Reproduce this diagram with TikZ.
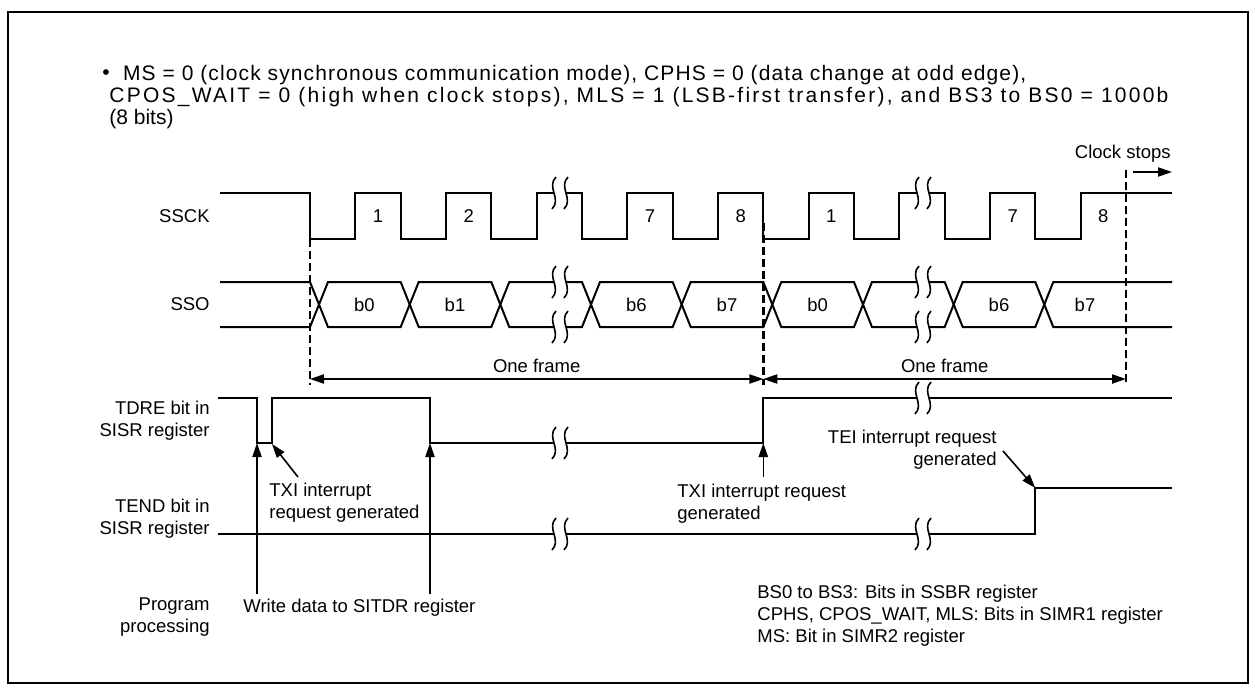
\documentclass[tikz,border=0pt]{standalone}
\usepackage{fontspec}
\setmainfont{Liberation Sans}
\usetikzlibrary{arrows.meta, positioning, calc}

\begin{document}
\begin{tikzpicture}[x=0.5pt, y=-0.5pt,
    sig/.style={line width=1pt, line join=miter},
    guide/.style={line width=1.4pt, dash pattern=on 4pt off 2pt},
    arrow/.style={-{Triangle[length=7pt,width=4.6pt]}, line width=0.8pt},
    span/.style={{Triangle[length=7pt,width=4.6pt]}-{Triangle[length=7pt,width=4.6pt]}, line width=0.8pt},
    lbl/.style={font=\fontsize{9.25}{11}\selectfont, inner sep=0pt},
    signame/.style={lbl, align=right, anchor=east},
    note/.style={lbl, align=left, anchor=west},
    wavebreak/.pic={
        \fill[white] (-2,-16) .. controls (-12,-6) and (4,6) .. (-6,16) -- (6,16) .. controls (16,6) and (0,-6) .. (10,-16) -- cycle;
        \draw[line width=0.8pt] (-2,-16) .. controls (-12,-6) and (4,6) .. (-6,16);
        \draw[line width=0.8pt] (10,-16) .. controls (0,-6) and (16,6) .. (6,16);
    }
]
    \useasboundingbox (0,0) rectangle (1255,691);
    \draw[line width=1.4pt] (8,12) rectangle (1248,683);

    % Conditions
    \node[lbl, font=\fontsize{10.5}{10.85}\selectfont] (bullet) at (106,75) {\textbullet};
    \node[lbl, align=left, anchor=north west, font=\fontsize{10.5}{10.85}\selectfont] (cond) at (109,65)
        {\hspace*{6.8pt}{\addfontfeatures{LetterSpace=5.3}MS = 0 (clock synchronous communication mode), CPHS = 0 (data change at odd edge),}\\
         {\addfontfeatures{LetterSpace=10.7}CPOS\_WAIT = 0 (high when clock stops), MLS = 1 (LSB-first transfer), and BS3 to BS0 = 1000b}\\
         (8 bits)};

    % Signal names
    \node[signame] (sscklbl) at (210,216) {SSCK};
    \node[signame] (ssolbl) at (210,304) {SSO};
    \node[signame] (tdrelbl) at (210,421) {TDRE bit in\\SISR register};
    \node[signame] (tendlbl) at (210,519) {TEND bit in\\SISR register};
    \node[signame] (proglbl) at (210,617) {Program\\processing};

    % SSCK
    \draw[sig] (220,193) -- (310,193) -- (310,239) -- (355.3,239) -- (355.3,193) -- (400.7,193) -- (400.7,239)
        -- (446,239) -- (446,193) -- (491.3,193) -- (491.3,239) -- (536.7,239) -- (536.7,193) -- (582,193)
        -- (582,239) -- (627.3,239) -- (627.3,193) -- (672.7,193) -- (672.7,239) -- (718,239) -- (718,193)
        -- (763.3,193) -- (763.3,239) -- (808.7,239) -- (808.7,193) -- (854,193) -- (854,239) -- (899.3,239)
        -- (899.3,193) -- (944.7,193) -- (944.7,239) -- (990,239) -- (990,193) -- (1035.3,193) -- (1035.3,239)
        -- (1080.7,239) -- (1080.7,193) -- (1172,193);
    \node[lbl] (ck1) at (378,216) {1};
    \node[lbl] (ck2) at (468.7,216) {2};
    \node[lbl] (ck7) at (650,216) {7};
    \node[lbl] (ck8) at (740.7,216) {8};
    \node[lbl] (ckb1) at (831.3,216) {1};
    \node[lbl] (ckb7) at (1012.7,216) {7};
    \node[lbl] (ckb8) at (1103.3,216) {8};

    % SSO
    \draw[sig] (220,282) -- (310,282) -- (328,327) -- (400.7,327) -- (418.7,282) -- (491.3,282) -- (509.3,327)
        -- (582,327) -- (600,282) -- (672.7,282) -- (690.7,327) -- (763.3,327) -- (781.3,282) -- (854,282)
        -- (872,327) -- (944.7,327) -- (962.7,282) -- (1035.3,282) -- (1053.3,327) -- (1172,327);
    \draw[sig] (220,327) -- (310,327) -- (328,282) -- (400.7,282) -- (418.7,327) -- (491.3,327) -- (509.3,282)
        -- (582,282) -- (600,327) -- (672.7,327) -- (690.7,282) -- (763.3,282) -- (781.3,327) -- (854,327)
        -- (872,282) -- (944.7,282) -- (962.7,327) -- (1035.3,327) -- (1053.3,282) -- (1172,282);
    \node[lbl] (bA0) at (364.3,304.5) {b0};
    \node[lbl] (bA1) at (455,304.5) {b1};
    \node[lbl] (bA6) at (636.3,304.5) {b6};
    \node[lbl] (bA7) at (727,304.5) {b7};
    \node[lbl] (bB0) at (817.7,304.5) {b0};
    \node[lbl] (bB6) at (999,304.5) {b6};
    \node[lbl] (bB7) at (1085,304.5) {b7};

    % TDRE and TEND
    \draw[sig] (218,398) -- (257,398) -- (257,443) -- (271.7,443) -- (271.7,398) -- (430,398) -- (430,443)
        -- (763.3,443) -- (763.3,398) -- (1172,398);
    \draw[sig] (218,534) -- (1035.3,534) -- (1035.3,488) -- (1172,488);

    % Breaks
    \pic at (558,193) {wavebreak};
    \pic at (921,193) {wavebreak};
    \pic at (558,282) {wavebreak};
    \pic at (558,327) {wavebreak};
    \pic at (921,282) {wavebreak};
    \pic at (921,327) {wavebreak};
    \pic at (558,443) {wavebreak};
    \pic at (921,398) {wavebreak};
    \pic at (558,534) {wavebreak};
    \pic at (921,534) {wavebreak};

    % Frames
    \coordinate (frA) at (310,239);
    \coordinate (frB) at (763.3,223);
    \coordinate (stop) at (1126,170);
    \coordinate (frAend) at (310,385);
    \coordinate (frBend) at (763.3,385);
    \coordinate (stopend) at (1126,385);
    \draw[guide] (frA) -- (frAend);
    \draw[guide] (frB) -- (frBend);
    \draw[guide] (stop) -- (stopend);
    \draw[span] (310,379) coordinate (spA) -- (763.3,379) coordinate (spB);
    \draw[span] (spB) -- (1126,379) coordinate (spC);
    \node[lbl] (frameA) at (536.7,366) {One frame};
    \node[lbl] (frameB) at (944.7,366) {One frame};
    \node[lbl, anchor=east] (stoplbl) at (1171,154) {Clock stops};
    \coordinate (stopA) at (1133,172);
    \coordinate (stopB) at (1172,172);
    \draw[arrow] (stopA) -- (stopB);

    % Interrupts and writes
    \coordinate (wrA) at (257,594);
    \coordinate (wrAtip) at (257,443);
    \coordinate (wrB) at (430,594);
    \coordinate (wrBtip) at (430,443);
    \draw[arrow] (wrA) -- (wrAtip);
    \draw[arrow] (wrB) -- (wrBtip);
    \node[note] (writelbl) at (243,608) {Write data to SITDR register};

    \node[note] (txiA) at (269,503) {TXI interrupt\\request generated};
    \coordinate (txiAtail) at (298,477);
    \coordinate (txiAtip) at (272,444);
    \draw[arrow] (txiAtail) -- (txiAtip);

    \node[note] (txiB) at (677,503.5) {TXI interrupt request\\generated};
    \coordinate (txiBtail) at (763.3,477);
    \coordinate (txiBtip) at (763.3,443);
    \draw[arrow] (txiBtail) -- (txiBtip);

    \node[lbl, align=right, anchor=east] (teilbl) at (997,450) {TEI interrupt request\\generated};
    \coordinate (teitail) at (1003,451);
    \coordinate (teitip) at (1035.3,488);
    \draw[arrow] (teitail) -- (teitip);

    % Register notes
    \node[note] (notes) at (757,616) {BS0 to BS3: Bits in SSBR register\\
        CPHS, CPOS\_WAIT, MLS: Bits in SIMR1 register\\
        MS: Bit in SIMR2 register};

\end{tikzpicture}
\end{document}
